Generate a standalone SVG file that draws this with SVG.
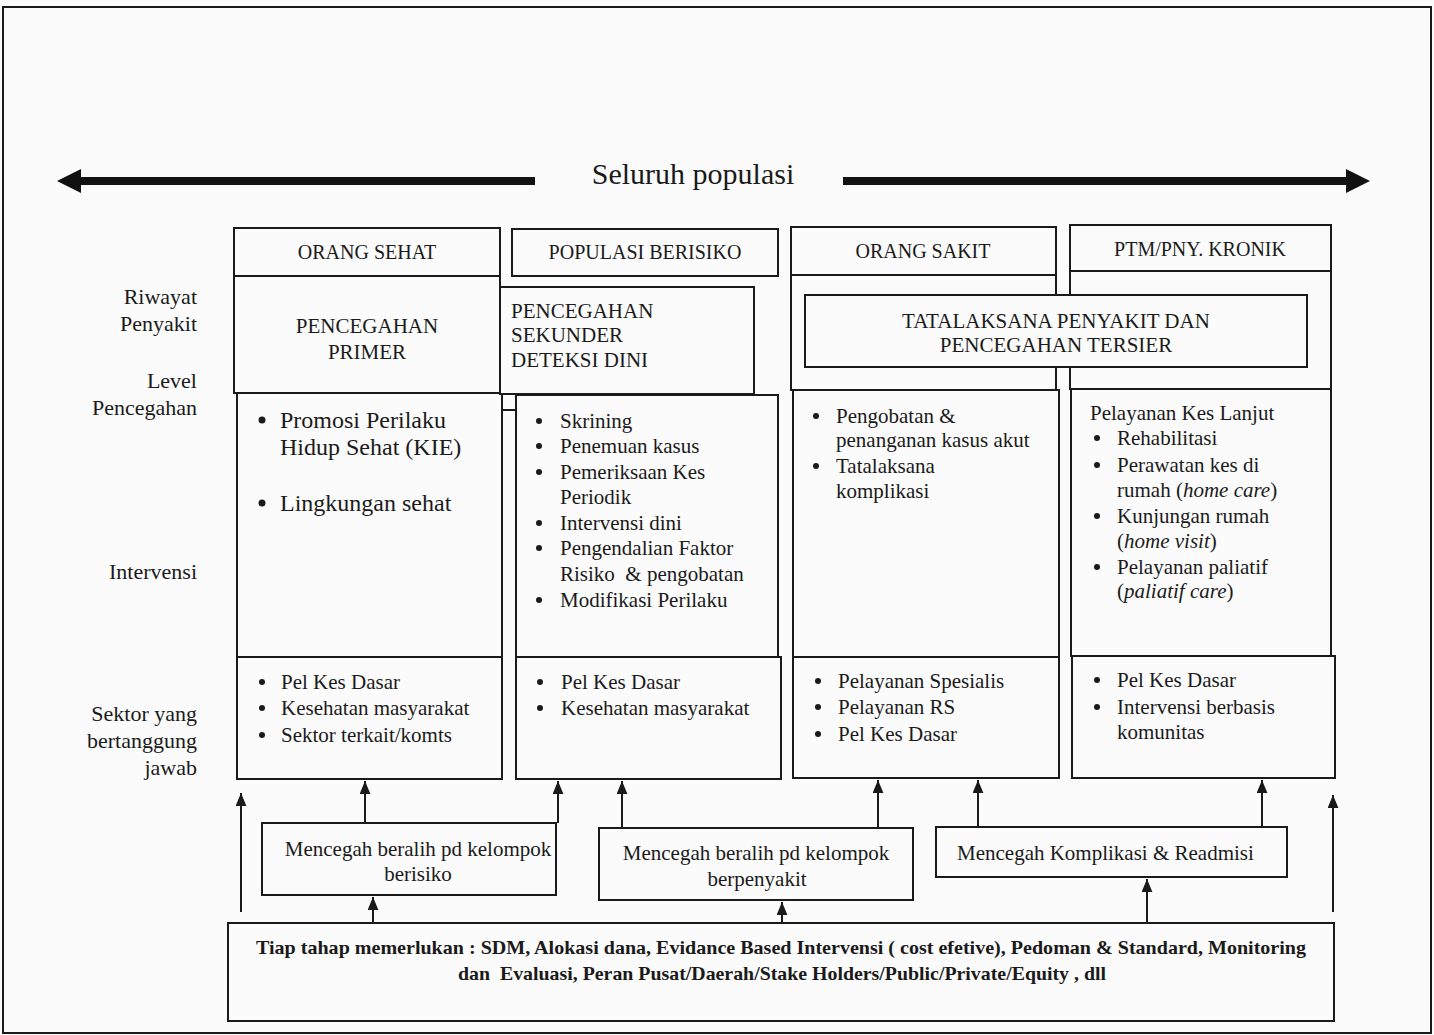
<svg xmlns="http://www.w3.org/2000/svg" width="1434" height="1035" viewBox="0 0 1434 1035">
<defs>
<style>
text{font-family:"Liberation Serif","Times New Roman",serif;fill:#1a1a1a;font-size:21px}
.box{fill:#fbfbfb;stroke:#1a1a1a;stroke-width:2}
.ln{stroke:#1a1a1a;stroke-width:2;fill:none}
.c{text-anchor:middle}
.r{text-anchor:end}
.big{font-size:24px}
.it{font-style:italic}
.b{font-weight:bold}
.dot{fill:#1a1a1a}
</style>
<marker id="ah" viewBox="0 0 12 10" refX="12" refY="5" markerWidth="13" markerHeight="11" markerUnits="userSpaceOnUse" orient="auto">
<path d="M0,0 L12,5 L0,10 z" fill="#1a1a1a"/>
</marker>
</defs>
<rect x="0" y="0" width="1434" height="1035" fill="#fbfbfb"/>
<rect x="3" y="7" width="1428" height="1026" fill="none" stroke="#1a1a1a" stroke-width="2"/>

<g id="populasi">
<path d="M57,181 L81,169 L81,177 L535,177 L535,185 L81,185 L81,193 Z" fill="#111"/>
<path d="M1370,181 L1346,169 L1346,177 L843,177 L843,185 L1346,185 L1346,193 Z" fill="#111"/>
<text x="693" y="184" class="c" style="font-size:30px">Seluruh populasi</text>
</g>

<g id="labels">
<text x="197" y="304" class="r" style="font-size:22px">Riwayat</text>
<text x="197" y="331" class="r" style="font-size:22px">Penyakit</text>
<text x="197" y="388" class="r" style="font-size:22px">Level</text>
<text x="197" y="415" class="r" style="font-size:22px">Pencegahan</text>
<text x="197" y="579" class="r" style="font-size:22px">Intervensi</text>
<text x="197" y="721" class="r" style="font-size:22px">Sektor yang</text>
<text x="197" y="748" class="r" style="font-size:22px">bertanggung</text>
<text x="197" y="775" class="r" style="font-size:22px">jawab</text>
</g>

<g id="col1">
<rect class="box" x="234" y="228" width="266" height="48"/>
<text x="367" y="259" class="c" style="font-size:20px">ORANG SEHAT</text>
<rect class="box" x="234" y="276" width="266" height="117"/>
<text x="367" y="333" class="c">PENCEGAHAN</text>
<text x="367" y="359" class="c">PRIMER</text>
<rect class="box" x="237" y="393" width="265" height="264"/>
<circle class="dot" cx="262" cy="420" r="3.5"/><text x="280" y="428" class="big">Promosi Perilaku</text>
<text x="280" y="455" class="big">Hidup Sehat (KIE)</text>
<circle class="dot" cx="262" cy="503" r="3.5"/><text x="280" y="511" class="big">Lingkungan sehat</text>
<rect class="box" x="237" y="657" width="265" height="122"/>
<circle class="dot" cx="262" cy="682" r="3"/><text x="281" y="689">Pel Kes Dasar</text>
<circle class="dot" cx="262" cy="708" r="3"/><text x="281" y="715">Kesehatan masyarakat</text>
<circle class="dot" cx="262" cy="735" r="3"/><text x="281" y="742">Sektor terkait/komts</text>
</g>

<g id="col2">
<rect class="box" x="512" y="229" width="266" height="47"/>
<text x="645" y="259" class="c" style="font-size:20px">POPULASI BERISIKO</text>
<rect class="box" x="500" y="287" width="254" height="107"/>
<text x="511" y="318">PENCEGAHAN</text>
<text x="511" y="342">SEKUNDER</text>
<text x="511" y="367">DETEKSI DINI</text>
<line class="ln" x1="502" y1="410" x2="516" y2="410"/>
<rect class="box" x="516" y="395" width="262" height="262"/>
<circle class="dot" cx="539" cy="421" r="3"/><text x="560" y="428">Skrining</text>
<circle class="dot" cx="539" cy="446" r="3"/><text x="560" y="453">Penemuan kasus</text>
<circle class="dot" cx="539" cy="472" r="3"/><text x="560" y="479">Pemeriksaan Kes</text>
<text x="560" y="504">Periodik</text>
<circle class="dot" cx="539" cy="523" r="3"/><text x="560" y="530">Intervensi dini</text>
<circle class="dot" cx="539" cy="548" r="3"/><text x="560" y="555">Pengendalian Faktor</text>
<text x="560" y="581" xml:space="preserve">Risiko  &amp; pengobatan</text>
<circle class="dot" cx="539" cy="600" r="3"/><text x="560" y="607">Modifikasi Perilaku</text>
<rect class="box" x="516" y="657" width="265" height="122"/>
<circle class="dot" cx="540" cy="682" r="3"/><text x="561" y="689">Pel Kes Dasar</text>
<circle class="dot" cx="540" cy="708" r="3"/><text x="561" y="715">Kesehatan masyarakat</text>
</g>

<g id="col3">
<rect class="box" x="791" y="227" width="265" height="48"/>
<text x="923" y="258" class="c" style="font-size:20px">ORANG SAKIT</text>
<rect class="box" x="791" y="275" width="265" height="115"/>
<rect class="box" x="793" y="390" width="266" height="267"/>
<circle class="dot" cx="816" cy="416" r="3"/><text x="836" y="423">Pengobatan &amp;</text>
<text x="836" y="447">penanganan kasus akut</text>
<circle class="dot" cx="816" cy="466" r="3"/><text x="836" y="473">Tatalaksana</text>
<text x="836" y="498">komplikasi</text>
<rect class="box" x="793" y="657" width="266" height="121"/>
<circle class="dot" cx="818" cy="681" r="3"/><text x="838" y="688">Pelayanan Spesialis</text>
<circle class="dot" cx="818" cy="707" r="3"/><text x="838" y="714">Pelayanan RS</text>
<circle class="dot" cx="818" cy="734" r="3"/><text x="838" y="741">Pel Kes Dasar</text>
</g>

<g id="col4">
<rect class="box" x="1070" y="225" width="261" height="46"/>
<text x="1200" y="256" class="c" style="font-size:20px">PTM/PNY. KRONIK</text>
<rect class="box" x="1070" y="271" width="261" height="118"/>
<rect class="box" x="1071" y="389" width="260" height="267"/>
<text x="1090" y="420">Pelayanan Kes Lanjut</text>
<circle class="dot" cx="1097" cy="438" r="3"/><text x="1117" y="445">Rehabilitasi</text>
<circle class="dot" cx="1097" cy="465" r="3"/><text x="1117" y="472">Perawatan kes di</text>
<text x="1117" y="497">rumah (<tspan class="it">home care</tspan>)</text>
<circle class="dot" cx="1097" cy="516" r="3"/><text x="1117" y="523">Kunjungan rumah</text>
<text x="1117" y="548">(<tspan class="it">home visit</tspan>)</text>
<circle class="dot" cx="1097" cy="567" r="3"/><text x="1117" y="574">Pelayanan paliatif</text>
<text x="1117" y="598">(<tspan class="it">paliatif care</tspan>)</text>
<rect class="box" x="1072" y="656" width="263" height="122"/>
<circle class="dot" cx="1097" cy="680" r="3"/><text x="1117" y="687">Pel Kes Dasar</text>
<circle class="dot" cx="1097" cy="707" r="3"/><text x="1117" y="714">Intervensi berbasis</text>
<text x="1117" y="739">komunitas</text>
</g>

<g id="tatalaksana">
<rect class="box" x="805" y="295" width="502" height="72"/>
<text x="1056" y="328" class="c">TATALAKSANA PENYAKIT DAN</text>
<text x="1056" y="352" class="c">PENCEGAHAN TERSIER</text>
</g>

<g id="mencegah-berisiko">
<rect class="box" x="262" y="823" width="294" height="72"/>
<text x="418" y="856" class="c">Mencegah beralih pd kelompok</text>
<text x="418" y="881" class="c">berisiko</text>
</g>
<g id="mencegah-berpenyakit">
<rect class="box" x="599" y="828" width="314" height="72"/>
<text x="756" y="860" class="c">Mencegah beralih pd kelompok</text>
<text x="757" y="886" class="c">berpenyakit</text>
</g>
<g id="mencegah-komplikasi">
<rect class="box" x="936" y="827" width="351" height="50"/>
<text x="957" y="860">Mencegah Komplikasi &amp; Readmisi</text>
</g>
<g id="tiap-tahap">
<rect class="box" x="228" y="923" width="1106" height="98"/>
<text x="781" y="954" class="c b" style="font-size:19px" textLength="1050" lengthAdjust="spacingAndGlyphs">Tiap tahap memerlukan : SDM, Alokasi dana, Evidance Based Intervensi ( cost efetive), Pedoman &amp; Standard, Monitoring</text>
<text x="782" y="980" class="c b" style="font-size:19px" textLength="648" lengthAdjust="spacingAndGlyphs" xml:space="preserve">dan  Evaluasi, Peran Pusat/Daerah/Stake Holders/Public/Private/Equity , dll</text>
</g>

<g id="connectors">
<line class="ln" x1="241" y1="912" x2="241" y2="793" marker-end="url(#ah)"/>
<line class="ln" x1="365" y1="823" x2="365" y2="781" marker-end="url(#ah)"/>
<line class="ln" x1="558" y1="823" x2="558" y2="781" marker-end="url(#ah)"/>
<line class="ln" x1="622" y1="828" x2="622" y2="781" marker-end="url(#ah)"/>
<line class="ln" x1="878" y1="828" x2="878" y2="780" marker-end="url(#ah)"/>
<line class="ln" x1="978" y1="827" x2="978" y2="780" marker-end="url(#ah)"/>
<line class="ln" x1="1262" y1="827" x2="1262" y2="780" marker-end="url(#ah)"/>
<line class="ln" x1="1333" y1="912" x2="1333" y2="795" marker-end="url(#ah)"/>
<line class="ln" x1="373" y1="923" x2="373" y2="897" marker-end="url(#ah)"/>
<line class="ln" x1="782" y1="923" x2="782" y2="902" marker-end="url(#ah)"/>
<line class="ln" x1="1147" y1="923" x2="1147" y2="879" marker-end="url(#ah)"/>
</g>
</svg>
